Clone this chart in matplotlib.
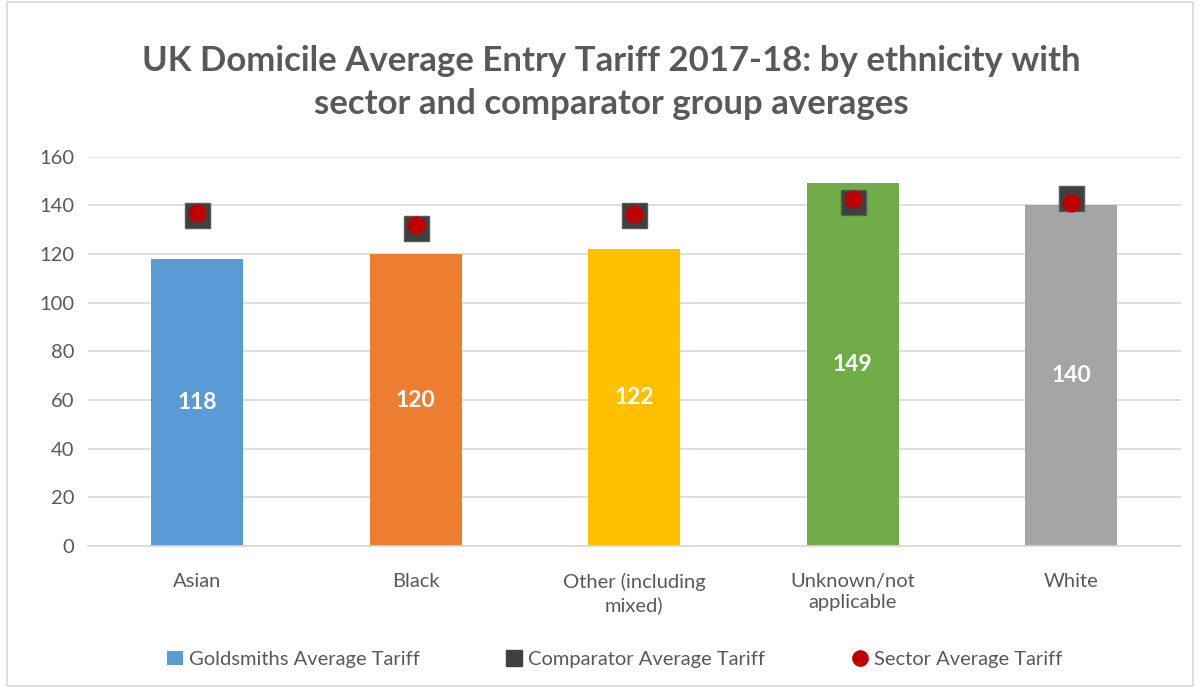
import matplotlib
matplotlib.use("Agg")
import matplotlib.pyplot as plt
from matplotlib.lines import Line2D
from matplotlib.patches import Patch, Rectangle

plt.rcParams['font.family'] = ['Lato', 'DejaVu Sans']

categories = ["Asian", "Black", "Other (including\nmixed)", "Unknown/not\napplicable", "White"]
goldsmiths = [118, 120, 122, 149, 140]
comparator = [136, 130.5, 136, 141.5, 143]
sector = [137, 132, 136.5, 142.5, 141]
bar_colors = ["#5B9BD5", "#ED7D31", "#FFC000", "#70AD47", "#A5A5A5"]

text_grey = "#595959"

fig = plt.figure(figsize=(11.98, 6.87), dpi=100)
fig.patches.append(Rectangle((0.006, 0.002), 0.99, 0.995, transform=fig.transFigure,
                             fill=False, edgecolor="#D9D9D9", linewidth=1.2))
ax = fig.add_axes([0.0735, 0.205, 0.912, 0.567])

x = range(len(categories))
bars = ax.bar(x, goldsmiths, width=0.42, color=bar_colors, zorder=2)
ax.plot(x, comparator, linestyle="none", marker="s", markersize=18,
        color="#404040", markeredgecolor="#595959", zorder=3)
ax.plot(x, sector, linestyle="none", marker="o", markersize=12,
        color="#C00000", zorder=4)

for xi, v in zip(x, goldsmiths):
    ax.text(xi, v / 2, str(v), ha="center", va="center", color="white",
            fontsize=16.5, fontweight="bold", zorder=5)

ax.set_ylim(0, 160)
ax.set_yticks(range(0, 161, 20))
ax.set_xlim(-0.5, 4.5)
ax.set_xticks(list(x))
ax.set_xticklabels(categories, linespacing=1.35)
ax.grid(axis="y", color="#D9D9D9", linewidth=1.2, zorder=0)
for s in ["top", "right", "left"]:
    ax.spines[s].set_visible(False)
ax.spines["bottom"].set_color("#D9D9D9")
ax.spines["bottom"].set_linewidth(1.2)
ax.tick_params(axis="both", length=0, labelsize=14.5, colors=text_grey, pad=10)
ax.tick_params(axis="x", pad=19)

fig.text(0.51, 0.88, "UK Domicile Average Entry Tariff 2017-18: by ethnicity with\nsector and comparator group averages",
         ha="center", va="center", fontsize=25, fontweight="bold", color=text_grey,
         linespacing=1.4)

handles = [
    Patch(facecolor="#5B9BD5", label="Goldsmiths Average Tariff"),
    Line2D([], [], linestyle="none", marker="s", markersize=11, color="#404040",
           label="Comparator Average Tariff"),
    Line2D([], [], linestyle="none", marker="o", markersize=11, color="#C00000",
           label="Sector Average Tariff"),
]
fig.legend(handles=handles, loc="center", bbox_to_anchor=(0.513, 0.04), ncol=3,
           frameon=False, fontsize=14.5, labelcolor=text_grey, handlelength=0.8,
           handletextpad=0.3, columnspacing=4.3)

fig.savefig("out.png", dpi=100)
